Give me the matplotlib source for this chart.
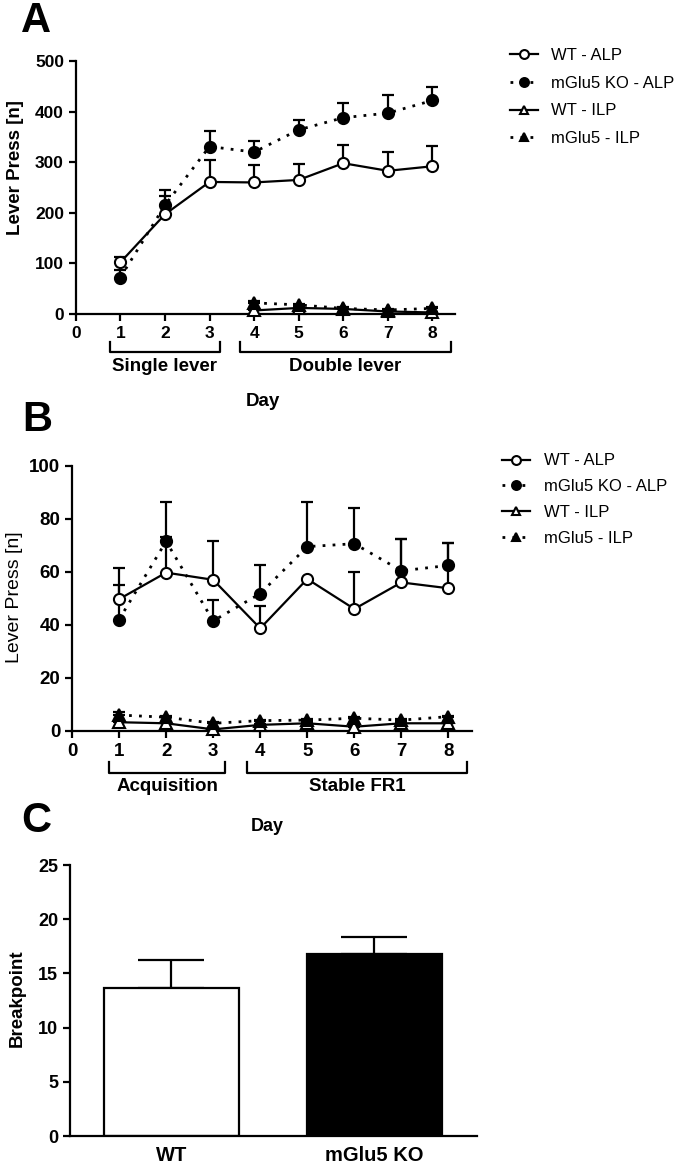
import matplotlib

matplotlib.use("Agg")
import matplotlib.pyplot as plt
import numpy as np

plt.rcParams["font.family"] = ["Liberation Sans", "DejaVu Sans"]

# ---- data ----
days = [1, 2, 3, 4, 5, 6, 7, 8]
ilp_days = [4, 5, 6, 7, 8]

# panel A
a_wt_alp = [102, 197, 261, 260, 265, 298, 283, 292]
a_wt_alp_err = [11, 36, 43, 34, 31, 37, 38, 40]
a_ko_alp = [72, 215, 331, 320, 364, 388, 397, 422]
a_ko_alp_err = [15, 30, 31, 21, 19, 30, 35, 27]
a_wt_ilp = [7, 12, 10, 5, 3]
a_wt_ilp_err = [2, 2, 2, 1, 1]
a_ko_ilp = [22, 18, 11, 8, 11]
a_ko_ilp_err = [3, 2, 2, 1, 2]

# panel B
b_wt_alp = [49.7, 59.7, 57.0, 38.7, 57.3, 46.0, 56.0, 53.8]
b_wt_alp_err = [11.6, 13.5, 14.5, 8.3, 0.0, 14.0, 16.4, 16.9]
b_ko_alp = [42.0, 71.5, 41.5, 51.8, 69.5, 70.6, 60.4, 62.4]
b_ko_alp_err = [13.0, 14.9, 7.9, 10.8, 16.7, 13.4, 11.8, 8.6]
b_wt_ilp = [3.3, 2.9, 0.6, 2.3, 2.9, 1.6, 2.9, 2.9]
b_wt_ilp_err = [0.5, 0.4, 0.3, 0.3, 0.3, 0.3, 0.6, 0.3]
b_ko_ilp = [6.0, 5.2, 2.9, 3.9, 4.1, 4.8, 4.1, 5.4]
b_ko_ilp_err = [1.2, 0.5, 0.4, 0.4, 0.4, 0.4, 0.5, 0.4]

# panel C
c_groups = ["WT", "mGlu5 KO"]
c_values = [13.65, 16.78]
c_err = [2.55, 1.55]

legend_labels = ["WT - ALP", "mGlu5 KO - ALP", "WT - ILP", "mGlu5 - ILP"]

LW = 1.6
MS = 8
DOTTED = (0, (1.0, 2.6))


def draw_series(ax, x, y, err, marker, filled, dotted):
    fc = "black" if filled else "white"
    ax.errorbar(x, y, yerr=[np.zeros(len(err)), err], fmt="none", ecolor="black",
                elinewidth=LW, capsize=4, capthick=LW, zorder=2, clip_on=False)
    line, = ax.plot(x, y, ls=DOTTED if dotted else "-", color="black",
                    lw=2.0 if dotted else LW, marker=marker, ms=MS, mfc=fc,
                    mec="black", mew=1.5, zorder=3, clip_on=False)
    return line


def style_line_axes(ax, ymax, ystep, tick_fs):
    ax.set_xlim(0, 8.5)
    ax.set_ylim(0, ymax)
    ax.set_xticks(range(0, 9))
    ax.set_yticks(np.arange(0, ymax + 1, ystep))
    for s in ("top", "right"):
        ax.spines[s].set_visible(False)
    for s in ("left", "bottom"):
        ax.spines[s].set_linewidth(LW)
    ax.tick_params(width=LW, length=5, labelsize=tick_fs)
    for lab in ax.get_xticklabels() + ax.get_yticklabels():
        lab.set_fontweight("bold")


def bracket(ax, x0, x1, y, h, label, ly, fs):
    tr = ax.get_xaxis_transform()
    ax.plot([x0, x0, x1, x1], [y + h, y, y, y + h], color="black", lw=LW,
            transform=tr, clip_on=False)
    ax.text((x0 + x1) / 2, ly, label, transform=tr, ha="center", va="center",
            fontsize=fs, fontweight="bold")


def add_legend(ax, handles, x, y, spacing):
    ax.legend(handles, legend_labels, loc="upper left", bbox_to_anchor=(x, y),
              bbox_transform=ax.figure.transFigure, frameon=False, fontsize=12,
              handlelength=1.7, handletextpad=0.8, labelspacing=spacing,
              markerscale=0.8)


fig = plt.figure(figsize=(6.89, 11.69), dpi=100)

# ---- panel A ----
axA = fig.add_axes([0.110, 0.7314, 0.550, 0.2164])
hA = [
    draw_series(axA, days, a_wt_alp, a_wt_alp_err, "o", False, False),
    draw_series(axA, days, a_ko_alp, a_ko_alp_err, "o", True, True),
    draw_series(axA, ilp_days, a_wt_ilp, a_wt_ilp_err, "^", False, False),
    draw_series(axA, ilp_days, a_ko_ilp, a_ko_ilp_err, "^", True, True),
]
hA[0].set_zorder(4)
style_line_axes(axA, 500, 100, 12.5)
axA.set_ylabel("Lever Press [n]", fontsize=13.5, fontweight="bold")
axA.yaxis.set_label_coords(-0.137, 0.577)
bracket(axA, 0.76, 3.23, -0.150, 0.04, "Single lever", -0.209, 13.5)
bracket(axA, 3.68, 8.41, -0.150, 0.04, "Double lever", -0.209, 13.5)
axA.text(4.2, -0.347, "Day", transform=axA.get_xaxis_transform(), ha="center",
         va="center", fontsize=13.5, fontweight="bold")
add_legend(axA, hA, 0.718, 0.972, 0.77)
fig.text(0.052, 0.982, "A", fontsize=30, fontweight="bold", ha="center", va="center")

# ---- panel B ----
axB = fig.add_axes([0.1045, 0.3747, 0.5805, 0.2269])
hB = [
    draw_series(axB, days, b_wt_alp, b_wt_alp_err, "o", False, False),
    draw_series(axB, days, b_ko_alp, b_ko_alp_err, "o", True, True),
    draw_series(axB, days, b_wt_ilp, b_wt_ilp_err, "^", False, False),
    draw_series(axB, days, b_ko_ilp, b_ko_ilp_err, "^", True, True),
]
hB[0].set_zorder(4)
style_line_axes(axB, 100, 20, 13.5)
axB.set_ylabel("Lever Press [n]", fontsize=14)
axB.yaxis.set_label_coords(-0.1225, 0.506)
bracket(axB, 0.79, 3.25, -0.158, 0.04, "Acquisition", -0.211, 13.5)
bracket(axB, 3.72, 8.39, -0.158, 0.04, "Stable FR1", -0.211, 13.5)
axB.text(4.15, -0.362, "Day", transform=axB.get_xaxis_transform(), ha="center",
         va="center", fontsize=13, fontweight="bold")
add_legend(axB, hB, 0.707, 0.625, 0.65)
fig.text(0.054, 0.641, "B", fontsize=30, fontweight="bold", ha="center", va="center")

# ---- panel C ----
axC = fig.add_axes([0.1016, 0.0282, 0.5904, 0.2318])
xc = np.arange(len(c_groups))
axC.bar(xc, c_values, width=0.665, color=["white", "black"], edgecolor="black",
        linewidth=LW, zorder=2)
axC.errorbar(xc, c_values, yerr=[[0, 0], c_err], fmt="none", ecolor="black",
             elinewidth=LW, capsize=24, capthick=LW, zorder=1)
axC.set_xlim(-0.5, 1.505)
axC.set_ylim(0, 25)
axC.set_yticks(range(0, 26, 5))
axC.set_xticks(xc)
axC.set_xticklabels(c_groups)
for s in ("top", "right"):
    axC.spines[s].set_visible(False)
for s in ("left", "bottom"):
    axC.spines[s].set_linewidth(LW)
axC.tick_params(axis="y", width=LW, length=5, labelsize=13)
axC.tick_params(axis="x", length=0, labelsize=14.5, pad=7)
for lab in axC.get_xticklabels() + axC.get_yticklabels():
    lab.set_fontweight("bold")
axC.set_ylabel("Breakpoint", fontsize=13.5, fontweight="bold")
axC.yaxis.set_label_coords(-0.108, 0.507)
fig.text(0.053, 0.298, "C", fontsize=30, fontweight="bold", ha="center", va="center")

fig.savefig("out.png", dpi=100)
